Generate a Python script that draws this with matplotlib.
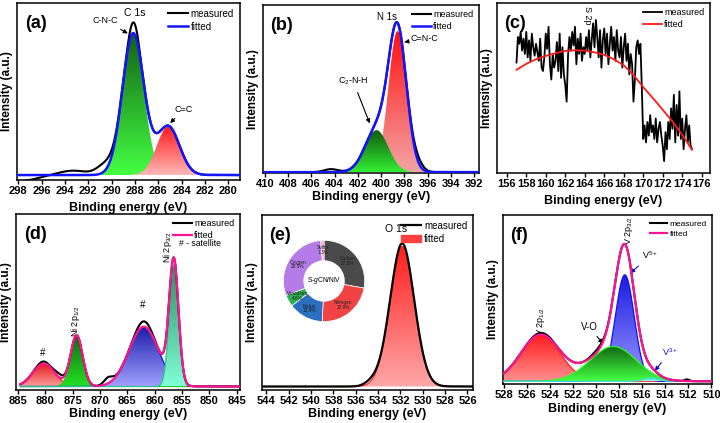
import numpy as np
import matplotlib
matplotlib.use("Agg")
import matplotlib.pyplot as plt
from matplotlib.colors import LinearSegmentedColormap
from matplotlib.patches import PathPatch

plt.rcParams['font.family'] = ['Liberation Sans', 'DejaVu Sans']
plt.rcParams['mathtext.fontset'] = 'custom'
plt.rcParams['mathtext.rm'] = 'Liberation Sans'
plt.rcParams['mathtext.it'] = 'Liberation Sans:italic'

# ---- data (peak fits: centre eV, sigma eV, height in axis fraction) ----
a_base = 0.028
a_peaks = [(288.15, 0.92, 0.80), (285.15, 0.97, 0.275)]           # C-N-C, C=C
a_extra = [(288.1, 0.4, 0.06), (290.6, 0.7, 0.05), (293.3, 1.2, 0.025), (298.0, 1.5, -0.035)]

b_base = 0.005
b_peaks = [(398.6, 0.78, 0.84), (400.4, 1.0, 0.25)]                # C=N-C, C2-N-H
b_extra = [(396.9, 0.5, 0.035), (404.3, 0.6, 0.018)]

c_fit_x = [157, 158, 159, 160, 161, 162, 163, 164, 165, 166, 167, 168, 169, 170, 171, 172, 173, 174, 175]
c_fit_y = [0.607, 0.642, 0.669, 0.689, 0.705, 0.718, 0.722, 0.720, 0.710, 0.695, 0.669, 0.634,
           0.577, 0.505, 0.440, 0.372, 0.303, 0.225, 0.137]
c_meas = [0.65, 0.80, 0.76, 0.83, 0.72, 0.79, 0.70,
          0.83, 0.68, 0.78, 0.66, 0.82, 0.74, 0.69,
          0.76, 0.71, 0.66, 0.79, 0.62, 0.60, 0.68,
          0.82, 0.73, 0.86, 0.64, 0.55, 0.70, 0.62,
          0.66, 0.77, 0.60, 0.82, 0.56, 0.74, 0.58,
          0.52, 0.42, 0.69, 0.80, 0.72, 0.83, 0.75,
          0.86, 0.64, 0.79, 0.70, 0.82, 0.66, 0.74,
          0.70, 0.80, 0.72, 0.84, 0.68, 0.78, 0.88,
          0.74, 0.90, 0.80, 0.68, 0.84, 0.62, 0.78,
          0.85, 0.70, 0.82, 0.64, 0.76, 0.86, 0.72,
          0.80, 0.66, 0.84, 0.72, 0.68, 0.80, 0.62,
          0.74, 0.82, 0.66, 0.76, 0.58, 0.70, 0.64,
          0.42, 0.55, 0.74, 0.78, 0.70, 0.76, 0.50,
          0.20, 0.28, 0.18, 0.30, 0.22, 0.34, 0.24,
          0.28, 0.20, 0.32, 0.18, 0.26, 0.30, 0.22,
          0.16, 0.07, 0.24, 0.14, 0.30, 0.20, 0.38,
          0.26, 0.46, 0.18, 0.40, 0.22, 0.48, 0.20,
          0.32, 0.14, 0.26, 0.34, 0.18, 0.28, 0.16,
          0.14]

d_base = 0.02
d_peaks = [(880.3, 2.0, 0.13), (874.3, 1.1, 0.29), (862.0, 2.7, 0.34), (856.5, 0.85, 0.69)]
d_extra = [(868.5, 0.8, 0.035), (862.0, 1.2, 0.03), (880.5, 1.0, 0.012), (877.5, 0.8, 0.02)]

e_base = 0.02
e_peaks = [(531.85, 1.1, 0.80)]
e_extra = [(531.8, 0.5, 0.018), (534.6, 0.6, 0.02)]
pie_labels = ['Carbon', 'Nitrogen', 'Nickel', 'Vanadium', 'Oxygen', 'Sulfur']
pie_values = [27.8, 22.9, 13.9, 4.6, 29.5, 1.3]
pie_colors = ['#4a4a4a', '#f04444', '#2a6fc0', '#2fb050', '#b57be6', '#f2a6c8']

f_base = 0.016
f_peaks = [(524.8, 1.7, 0.275), (517.5, 0.82, 0.63), (518.5, 2.0, 0.206), (515.2, 0.6, 0.02)]
f_extra = [(524.6, 0.8, 0.01), (519.8, 0.6, 0.015), (512.1, 0.2, 0.01)]


def gauss(x, c, s, h):
    return h * np.exp(-(x - c) ** 2 / (2 * s * s))


def grad_fill(ax, x, y, base, top, bottom, z, edge=None):
    poly = ax.fill_between(x, base, y, facecolor='none', edgecolor='none')
    patch = PathPatch(poly.get_paths()[0], transform=ax.transData, facecolor='none', edgecolor='none')
    ax.add_patch(patch)
    cmap = LinearSegmentedColormap.from_list('g', [bottom, top])
    grad = np.linspace(0, 1, 256).reshape(-1, 1)
    im = ax.imshow(grad, aspect='auto', cmap=cmap, origin='lower',
                   extent=[x.min(), x.max(), base, y.max()], zorder=z)
    im.set_clip_path(patch)
    if edge:
        ax.plot(x, y, color=edge, lw=0.9, zorder=z + 0.1)


def style(ax, xlim, ticks, label_pad=2):
    ax.set_xlim(*xlim)
    ax.set_ylim(0, 1)
    ax.set_xticks(ticks)
    ax.set_yticks([])
    ax.tick_params(axis='x', direction='out', length=3, width=1, labelsize=8, pad=1.5)
    for t in ax.get_xticklabels():
        t.set_fontweight('bold')
    for s in ax.spines.values():
        s.set_linewidth(1.1)
    ax.set_xlabel('Binding energy (eV)', fontsize=9, fontweight='bold', labelpad=label_pad)
    ax.set_ylabel('Intensity (a.u.)', fontsize=8.5, fontweight='bold', labelpad=3)


def legend(ax, fs=7, **kw):
    lg = ax.legend(loc='upper right', frameon=False, fontsize=fs, handlelength=2.1,
                   handletextpad=0.3, borderaxespad=0.2, labelspacing=0.3, **kw)
    return lg


def panel_label(ax, s):
    ax.text(0.035, 0.93, s, transform=ax.transAxes, fontsize=13, fontweight='bold', va='top')


arrow = dict(arrowstyle='-|>', color='k', lw=0.8, mutation_scale=6)

fig = plt.figure(figsize=(7.2, 4.23), dpi=100)

# ---------- (a) ----------
ax = fig.add_axes([0.0236, 0.5745, 0.3097, 0.4184])
x = np.linspace(279, 298.2, 800)
comps = [gauss(x, *p) for p in a_peaks]
fit = a_base + sum(comps)
meas = fit + sum(gauss(x, *p) for p in a_extra)
grad_fill(ax, x, a_base + comps[0], a_base, '#136013', '#44ff44', 2)
grad_fill(ax, x, a_base + comps[1], a_base, '#ff1a1a', '#ffb8b8', 3)
ax.plot(x, meas, color='k', lw=1.5, zorder=4, label='measured')
ax.plot(x, fit, color='#1414ff', lw=1.8, zorder=5, label='fitted')
style(ax, (298.1, 279.0), np.arange(298, 279, -2), label_pad=4)
legend(ax)
panel_label(ax, '(a)')
ax.text(288.0, 0.945, 'C 1s', fontsize=7.5, ha='center', va='center')
ax.annotate('C-N-C', xy=(288.4, 0.82), xytext=(290.5, 0.90), fontsize=6.5, ha='center', va='center',
            arrowprops=arrow)
ax.annotate('C=C', xy=(285.15, 0.31), xytext=(283.8, 0.40), fontsize=6.5, ha='center', va='center',
            arrowprops=arrow)

# ---------- (b) ----------
ax = fig.add_axes([0.3653, 0.591, 0.3, 0.3972])
x = np.linspace(391.5, 410.2, 800)
comps = [gauss(x, *p) for p in b_peaks]
fit = b_base + sum(comps)
meas = fit + sum(gauss(x, *p) for p in b_extra)
grad_fill(ax, x, b_base + comps[0], b_base, '#ff1010', '#f4a4a4', 2)
grad_fill(ax, x, b_base + comps[1], b_base, '#0d580d', '#33ee33', 3)
ax.plot(x, meas, color='k', lw=1.5, zorder=4, label='measured')
ax.plot(x, fit, color='#1414ff', lw=1.8, zorder=5, label='fitted')
style(ax, (410.15, 391.6), np.arange(410, 391, -2), label_pad=1)
legend(ax, fs=6.5)
panel_label(ax, '(b)')
ax.text(399.5, 0.93, 'N 1s', fontsize=7, ha='center', va='center')
ax.annotate('C=N-C', xy=(398.25, 0.776), xytext=(396.3, 0.80), fontsize=6.5, ha='center', va='center',
            arrowprops=arrow)
ax.annotate('C$_2$-N-H', xy=(400.9, 0.28), xytext=(402.4, 0.545), fontsize=6.5, ha='center', va='center',
            arrowprops=arrow)

# ---------- (c) ----------
ax = fig.add_axes([0.6903, 0.591, 0.2958, 0.4019])
xm = np.linspace(157, 175, len(c_meas))
ax.plot(xm, c_meas, color='k', lw=1.3, label='measured')
ax.plot(c_fit_x, c_fit_y, color='#ff1a1a', lw=1.3, label='fitted')
style(ax, (155.0, 176.85), np.arange(156, 177, 2), label_pad=4)
legend(ax, fs=6.5)
panel_label(ax, '(c)')
ax.text(164.3, 0.93, 'S 2p', fontsize=6.5, rotation=-90, ha='center', va='center')

# ---------- (d) ----------
ax = fig.add_axes([0.0222, 0.078, 0.3111, 0.4161])
x = np.linspace(844, 884.6, 900)
comps = [gauss(x, *p) for p in d_peaks]
fit = d_base + sum(comps)
meas = fit + sum(gauss(x, *p) for p in d_extra)
grad_fill(ax, x, d_base + comps[0], d_base, '#e01818', '#ff9a9a', 2, edge='#ff2020')
grad_fill(ax, x, d_base + comps[1], d_base, '#166616', '#22e022', 3, edge='#22cc22')
grad_fill(ax, x, d_base + comps[2], d_base, '#1c1ca8', '#a0a0ff', 4, edge='#1010e0')
grad_fill(ax, x, d_base + comps[3], d_base, '#2e8b60', '#80ffd8', 5, edge='#30c090')
ax.plot(x, meas, color='k', lw=1.5, zorder=6, label='measured')
ax.plot(x, fit, color='#ff1493', lw=1.6, zorder=7, label='fitted')
style(ax, (885.4, 844.4), np.arange(885, 844, -5), label_pad=1)
legend(ax, fs=6.5)
panel_label(ax, '(d)')
ax.text(0.73, 0.83, '# - satellite', transform=ax.transAxes, fontsize=6.2, va='center')
ax.text(880.6, 0.21, '#', fontsize=7, ha='center', va='center')
ax.text(862.3, 0.485, '#', fontsize=7, ha='center', va='center')
ax.text(874.5, 0.39, 'Ni 2p$_{1/2}$', fontsize=6.5, rotation=90, ha='center', va='center')
ax.text(857.7, 0.81, 'Ni 2p$_{3/2}$', fontsize=6.5, rotation=90, ha='center', va='center')

# ---------- (e) ----------
ax = fig.add_axes([0.3639, 0.078, 0.2931, 0.4137])
x = np.linspace(525.3, 544.6, 800)
comps = [gauss(x, *p) for p in e_peaks]
fit = e_base + sum(comps)
meas = fit + sum(gauss(x, *p) for p in e_extra)
grad_fill(ax, x, fit, e_base, '#ff1e1e', '#ffa8a8', 2, edge='#ff3030')
ax.plot(x, meas, color='k', lw=1.6, zorder=4, label='measured')
ax.fill_between([], [], color='#ff4040', label='fitted')
style(ax, (544.4, 525.5), np.arange(544, 525, -2), label_pad=1)
legend(ax, fs=7)
panel_label(ax, '(e)')
ax.text(532.4, 0.92, 'O 1s', fontsize=7.5, ha='center', va='center')

ins = fig.add_axes([0.3931, 0.2388, 0.1139, 0.1939])
wedges, _ = ins.pie(pie_values, colors=pie_colors, startangle=90, counterclock=False,
                    wedgeprops=dict(width=0.5, edgecolor='white', linewidth=0.5))
for w, lab, v in zip(wedges, pie_labels, pie_values):
    ang = np.deg2rad((w.theta1 + w.theta2) / 2)
    r = 0.76
    ins.text(r * np.cos(ang), r * np.sin(ang), '%s\n%.1f%%' % (lab, v), fontsize=3.4,
             ha='center', va='center', color='#202020', linespacing=0.9)
ins.text(0, 0, 'S-$g$CN/NiV', fontsize=4.8, ha='center', va='center')
ins.set_xlim(-1.01, 1.01)
ins.set_ylim(-1.01, 1.01)
ins.set_aspect('equal')

# ---------- (f) ----------
ax = fig.add_axes([0.6986, 0.0922, 0.2903, 0.3995])
x = np.linspace(509.9, 528.1, 800)
comps = [gauss(x, *p) for p in f_peaks]
fit = f_base + sum(comps)
meas = fit + sum(gauss(x, *p) for p in f_extra)
grad_fill(ax, x, f_base + comps[0], f_base, '#ff1a1a', '#ff9090', 2, edge='#ff2020')
grad_fill(ax, x, f_base + comps[1], f_base, '#1a1ae0', '#9a9aff', 3, edge='#1010ff')
grad_fill(ax, x, f_base + comps[2], f_base, '#126612', '#44ff44', 4, edge='#22ff22')
grad_fill(ax, x, f_base + comps[3], f_base, '#30c0b0', '#90fff0', 5, edge='#40e0d0')
ax.plot(x, meas, color='k', lw=1.5, zorder=6, label='measured')
ax.plot(x, fit, color='#ff1493', lw=1.6, zorder=7, label='fitted')
style(ax, (528.05, 509.95), np.arange(528, 509, -2), label_pad=2)
legend(ax, fs=6)
panel_label(ax, '(f)')
ax.text(524.8, 0.37, 'V 2p$_{1/2}$', fontsize=6.5, rotation=90, ha='center', va='center')
ax.text(517.15, 0.91, 'V 2p$_{3/2}$', fontsize=6.5, rotation=90, ha='center', va='center')
ax.annotate('V$^{5+}$', xy=(517.2, 0.645), xytext=(515.3, 0.76), fontsize=6.5, ha='center', va='center',
            arrowprops=dict(arrowstyle='-|>', color='#1010c0', lw=0.8, mutation_scale=6))
ax.annotate('V-O', xy=(519.25, 0.226), xytext=(520.6, 0.34), fontsize=7, ha='center', va='center',
            arrowprops=arrow)
ax.annotate('V$^{3+}$', xy=(515.05, 0.065), xytext=(513.6, 0.19), fontsize=6.5, ha='center', va='center',
            color='#1010c0', arrowprops=dict(arrowstyle='-|>', color='#1010c0', lw=0.8, mutation_scale=6))

fig.savefig('out.png', dpi=100)
